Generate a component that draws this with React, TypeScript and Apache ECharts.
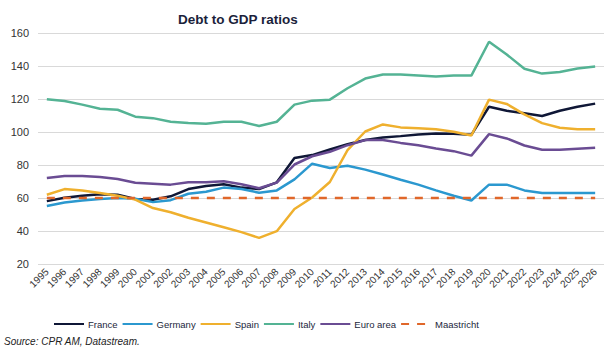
import React, { useEffect, useRef } from "react";
import * as echarts from "echarts";

const years = [
  "1995", "1996", "1997", "1998", "1999", "2000", "2001", "2002", "2003", "2004", "2005",
  "2006", "2007", "2008", "2009", "2010", "2011", "2012", "2013", "2014", "2015", "2016",
  "2017", "2018", "2019", "2020", "2021", "2022", "2023", "2024", "2025", "2026",
];

const france = [58.1, 60.2, 61.4, 62.2, 62, 59.4, 59, 61, 65.4, 67.3, 68.3, 66.3, 65.4, 69.5, 84.3, 86, 89.4, 92.6, 95.1, 96.7, 97.5, 98.5, 99.1, 99, 98.3, 115.3, 112.9, 111.3, 109.7, 112.9, 115.3, 117.2];
const germany = [55.1, 57.3, 58.5, 59.4, 60, 59.6, 57.5, 58.7, 62.6, 63.8, 66.3, 65.4, 63.2, 64.6, 71.3, 80.8, 78.2, 79.6, 77.2, 74.2, 71.1, 68.1, 64.6, 61.4, 58.5, 68.1, 68.1, 64.6, 63, 63, 63, 63];
const spain = [62, 65.4, 64.6, 63, 61.4, 59, 53.9, 51.4, 48, 45.2, 42.3, 39.3, 35.8, 39.9, 53.3, 60.3, 69.7, 89, 100.3, 104.6, 102.8, 102.2, 101.6, 100.1, 97.9, 119.6, 117, 110.7, 105.4, 102.6, 101.6, 101.6];
const italy = [119.8, 118.8, 116.6, 114.1, 113.5, 109.3, 108.4, 106.2, 105.4, 105, 106.2, 106.2, 103.6, 106.2, 116.6, 119, 119.6, 126.5, 132.4, 134.8, 134.8, 134.2, 133.6, 134.2, 134.2, 154.7, 147, 138.3, 135.4, 136.4, 138.5, 139.7];
const euroArea = [72.1, 73.3, 73.3, 72.7, 71.5, 69.3, 68.7, 68.1, 69.5, 69.5, 70.1, 68.3, 65.9, 69.3, 80.3, 85.3, 88, 92, 95.1, 95.1, 93.4, 92, 90, 88.4, 85.7, 98.7, 96.1, 91.8, 89.2, 89.2, 89.8, 90.4];
const maastricht = years.map(() => 60);

const FONT = "'Liberation Sans', Arial, sans-serif";

export default function App() {
  const ref = useRef<HTMLDivElement>(null);
  useEffect(() => {
    if (!ref.current) return;
    const chart = echarts.init(ref.current, undefined, { renderer: "svg" });
    const line = (name: string, data: number[], color: string, type: any = "solid") => ({
      name,
      type: "line",
      data,
      symbol: "none",
      lineStyle: { color, width: 2.5, type },
      itemStyle: { color },
    });
    chart.setOption({
      animation: false,
      textStyle: { fontFamily: FONT },
      title: {
        text: "Debt to GDP ratios",
        left: 173,
        top: 7,
        textStyle: { fontFamily: FONT, fontSize: 13.5, fontWeight: "bold", color: "#1b1f3b" },
      },
      grid: { left: 38, right: 12, top: 33, bottom: 94 },
      legend: {
        left: 53,
        top: 319,
        padding: 0,
        itemWidth: 30,
        itemHeight: 10,
        itemGap: 4,
        itemStyle: { opacity: 0 },
        textStyle: { fontFamily: FONT, fontSize: 9.5, color: "#1b1f3b", padding: [0, 0, 0, -1] },
        data: ["France", "Germany", "Spain", "Italy", "Euro area", "Maastricht"],
      },
      xAxis: {
        type: "category",
        data: years,
        boundaryGap: true,
        axisLine: { show: false },
        axisTick: { show: false },
        axisLabel: { interval: 0, rotate: 45, fontSize: 10, color: "#333", margin: 6, fontFamily: FONT },
      },
      yAxis: {
        type: "value",
        min: 20,
        max: 160,
        interval: 20,
        axisLabel: { fontSize: 11, color: "#333", margin: 9, fontFamily: FONT },
        splitLine: { lineStyle: { color: "#d9d9d9", width: 1 } },
      },
      series: [
        line("France", france, "#0f1736"),
        line("Germany", germany, "#2b98cf"),
        line("Spain", spain, "#efb02e"),
        line("Italy", italy, "#54b394"),
        line("Euro area", euroArea, "#6a4c93"),
        line("Maastricht", maastricht, "#e0672a", [8, 8]),
      ],
      graphic: [
        {
          type: "text",
          left: 4,
          top: 336,
          style: {
            text: "Source: CPR AM, Datastream.",
            font: `italic 10px ${FONT}`,
            fill: "#222",
          },
        },
      ],
    });
    return () => chart.dispose();
  }, []);
  return (
    <div
      ref={ref}
      style={{ position: "fixed", left: 0, top: 0, width: 616, height: 358, background: "#fff" }}
    />
  );
}
